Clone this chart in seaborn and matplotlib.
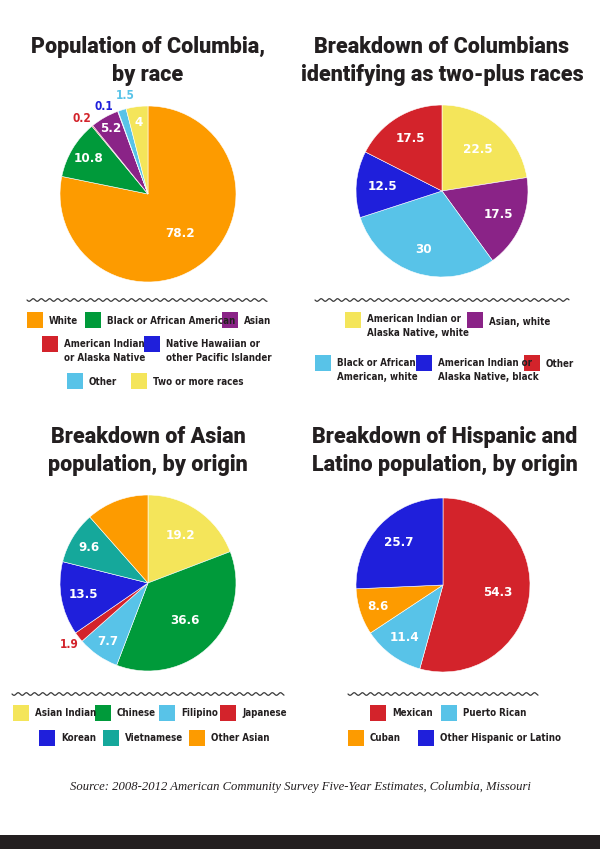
import numpy as np
import matplotlib
matplotlib.use("Agg")
import matplotlib.pyplot as plt
from matplotlib.patches import Rectangle
import seaborn as sns

# ---- data ----
race_labels = ["White", "Black or African American", "American Indian\nor Alaska Native", "Asian",
               "Native Hawaiian or\nother Pacific Islander", "Other", "Two or more races"]
race_values = [78.2, 10.8, 0.2, 5.2, 0.1, 1.5, 4]

multi_labels = ["American Indian or\nAlaska Native, white", "Asian, white", "Black or African\nAmerican, white",
                "American Indian or\nAlaska Native, black", "Other"]
multi_values = [22.5, 17.5, 30, 12.5, 17.5]

asian_labels = ["Asian Indian", "Chinese", "Filipino", "Japanese", "Korean", "Vietnamese", "Other Asian"]
asian_values = [19.2, 36.6, 7.7, 1.9, 13.5, 9.6, 11.5]
asian_shown = [True, True, True, True, True, True, False]

hisp_labels = ["Mexican", "Puerto Rican", "Cuban", "Other Hispanic or Latino"]
hisp_values = [54.3, 11.4, 8.6, 25.7]

titles = ["Population of Columbia,\nby race",
          "Breakdown of Columbians\nidentifying as two-plus races",
          "Breakdown of Asian\npopulation, by origin",
          "Breakdown of Hispanic and\nLatino population, by origin"]
source = "Source: 2008-2012 American Community Survey Five-Year Estimates, Columbia, Missouri"

# ---- styling ----
ORANGE, GREEN, PURPLE, RED = "#FD9B00", "#009A3A", "#8A2387", "#D3232B"
BLUE, LBLUE, YELLOW, TEAL = "#1F1FDB", "#58C3E8", "#F4E55A", "#15A89B"
INK = "#231F20"

sns.set_theme(style="white")
plt.rcParams["font.family"] = ["Roboto", "DejaVu Sans"]

W, H = 600, 857
fig = plt.figure(figsize=(6, 8.57), dpi=100)
fig.patch.set_facecolor("white")

deco = fig.add_axes([0, 0, 1, 1], zorder=0)
deco.set_xlim(0, W)
deco.set_ylim(H, 0)
deco.axis("off")

charts = [
    dict(vals=race_values, labels=race_labels, shown=[True] * 7,
         colors=[ORANGE, GREEN, RED, PURPLE, BLUE, LBLUE, YELLOW],
         center=(148, 194), r=88, dist=[0.58, 0.79, 1.14, 0.85, 1.11, 1.15, 0.82],
         shift=[0, 0, 2, 0, 7, -4, 0],
         title_x=148, title_y=(53, 81),
         wave=(27, 267, 300),
         legend=[(0, 27, 320, 321), (1, 85, 320, 321), (3, 222, 320, 321),
                 (2, 42, 344, 351), (4, 144, 344, 351),
                 (5, 67, 381, 382), (6, 131, 381, 382)]),
    dict(vals=multi_values, labels=multi_labels, shown=[True] * 5,
         colors=[YELLOW, PURPLE, LBLUE, BLUE, RED],
         center=(442, 191), r=86, dist=[0.64, 0.71, 0.71, 0.69, 0.71],
         shift=[0] * 5,
         title_x=442, title_y=(53, 81),
         wave=(315, 569, 300),
         legend=[(0, 345, 320, 326), (1, 467, 320, 322),
                 (2, 315, 363, 370), (3, 416, 363, 370), (4, 524, 363, 364)]),
    dict(vals=asian_values, labels=asian_labels, shown=asian_shown,
         colors=[YELLOW, GREEN, LBLUE, RED, BLUE, TEAL, ORANGE],
         center=(148, 583), r=88, dist=[0.66, 0.6, 0.81, 1.13, 0.75, 0.78, 0.7],
         shift=[0] * 7,
         title_x=148, title_y=(443, 471),
         wave=(12, 284, 694),
         legend=[(0, 13, 713, 713), (1, 95, 713, 713), (2, 159, 713, 713), (3, 220, 713, 713),
                 (4, 39, 738, 738), (5, 103, 738, 738), (6, 189, 738, 738)]),
    dict(vals=hisp_values, labels=hisp_labels, shown=[True] * 4,
         colors=[RED, LBLUE, ORANGE, BLUE],
         center=(443, 585), r=87, dist=[0.63, 0.75, 0.79, 0.7],
         shift=[0] * 4,
         title_x=445, title_y=(443, 471),
         wave=(348, 538, 694),
         legend=[(0, 370, 713, 713), (1, 441, 713, 713),
                 (2, 348, 738, 738), (3, 418, 738, 738)]),
]

NARROW = dict(family="DejaVu Sans", stretch="condensed", fontweight="bold")

for i, c in enumerate(charts):
    cx, cy = c["center"]
    r = c["r"]
    ax = fig.add_axes([(cx - 1.25 * r) / W, (H - cy - 1.25 * r) / H, 2.5 * r / W, 2.5 * r / H], zorder=2)
    wedges, _ = ax.pie(c["vals"], colors=c["colors"], startangle=90, counterclock=False,
                       radius=1, wedgeprops=dict(edgecolor="white", linewidth=0.4))
    ax.set_xlim(-1.25, 1.25)
    ax.set_ylim(-1.25, 1.25)
    ax.set_aspect("equal")
    ax.axis("off")
    for w, v, d, s, show, col in zip(wedges, c["vals"], c["dist"], c["shift"], c["shown"], c["colors"]):
        if not show:
            continue
        mid = np.deg2rad((w.theta1 + w.theta2) / 2 + s)
        inside = d < 1
        ax.text(d * np.cos(mid), d * np.sin(mid), f"{v:g}", ha="center", va="center",
                color="white" if inside else col, fontsize=9.5 if inside else 8.5, **NARROW)

    # title
    t1, t2 = titles[i].split("\n")
    for line, yb in zip((t1, t2), c["title_y"]):
        deco.text(c["title_x"], yb, line, ha="center", va="baseline", fontsize=15.5,
                  fontweight="heavy", color=INK)

    # wavy rule
    x0, x1, yw = c["wave"]
    xs = np.linspace(x0, x1, 600)
    deco.plot(xs, yw + 1.3 * np.sin(2 * np.pi * (xs - x0) / 8.2), color="#3a3a3a", lw=0.9)

    # legend
    for idx, sx, sy, ty in c["legend"]:
        deco.add_patch(Rectangle((sx, sy - 8), 16, 16, facecolor=c["colors"][idx], edgecolor="none"))
        deco.text(sx + 22, ty, c["labels"][idx], ha="left", va="center", fontsize=7.0,
                  color=INK, linespacing=1.45, **NARROW)

deco.text(W / 2, 787, source, ha="center", va="center", fontsize=9.1, style="italic",
          family=["Liberation Serif", "DejaVu Serif"], color=INK)
deco.add_patch(Rectangle((0, 835), W, 14, facecolor=INK, edgecolor="none"))

fig.savefig("out.png", dpi=100, facecolor="white")
